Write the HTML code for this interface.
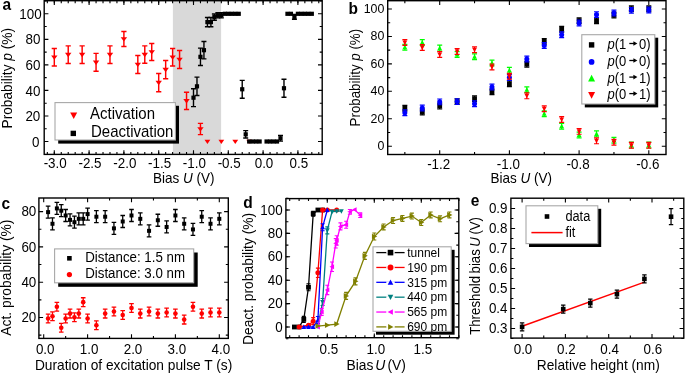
<!DOCTYPE html>
<html><head><meta charset="utf-8"><style>
html,body{margin:0;padding:0;background:#fff;}
svg{display:block;will-change:transform;}
text{font-family:"Liberation Sans", sans-serif;fill:#000;}
</style></head><body>
<svg width="685" height="373" viewBox="0 0 685 373">
<rect width="685" height="373" fill="#fff"/>
<rect x="172.9" y="0.7" width="48.2" height="153.7" fill="#d9d9d9"/>
<path d="M54.3 48.53V65.9M51.7 48.53h5.2M51.7 65.9h5.2" stroke="#ff0000" stroke-width="1.45" fill="none"/>
<path d="M51.1 55.42H57.5L54.3 59.82Z" fill="#ff0000"/>
<path d="M68.22 45.85V63.48M65.62 45.85h5.2M65.62 63.48h5.2" stroke="#ff0000" stroke-width="1.45" fill="none"/>
<path d="M65.02 52.86H71.42L68.22 57.26Z" fill="#ff0000"/>
<path d="M82.14 45.85V63.48M79.54 45.85h5.2M79.54 63.48h5.2" stroke="#ff0000" stroke-width="1.45" fill="none"/>
<path d="M78.94 52.86H85.34L82.14 57.26Z" fill="#ff0000"/>
<path d="M96.06 53.39V71.27M93.46 53.39h5.2M93.46 71.27h5.2" stroke="#ff0000" stroke-width="1.45" fill="none"/>
<path d="M92.86 60.53H99.26L96.06 64.93Z" fill="#ff0000"/>
<path d="M109.98 45.85V63.48M107.38 45.85h5.2M107.38 63.48h5.2" stroke="#ff0000" stroke-width="1.45" fill="none"/>
<path d="M106.78 52.86H113.18L109.98 57.26Z" fill="#ff0000"/>
<path d="M123.9 31.42V46.49M121.3 31.42h5.2M121.3 46.49h5.2" stroke="#ff0000" stroke-width="1.45" fill="none"/>
<path d="M120.7 37.16H127.1L123.9 41.56Z" fill="#ff0000"/>
<path d="M137.82 55.56V73.44M135.22 55.56h5.2M135.22 73.44h5.2" stroke="#ff0000" stroke-width="1.45" fill="none"/>
<path d="M134.62 62.7H141.02L137.82 67.1Z" fill="#ff0000"/>
<path d="M144.78 45.85V63.22M142.18 45.85h5.2M142.18 63.22h5.2" stroke="#ff0000" stroke-width="1.45" fill="none"/>
<path d="M141.58 52.74H147.98L144.78 57.14Z" fill="#ff0000"/>
<path d="M151.74 43.43V60.54M149.14 43.43h5.2M149.14 60.54h5.2" stroke="#ff0000" stroke-width="1.45" fill="none"/>
<path d="M148.54 50.18H154.94L151.74 54.58Z" fill="#ff0000"/>
<path d="M158.7 73.44V91.82M156.1 73.44h5.2M156.1 91.82h5.2" stroke="#ff0000" stroke-width="1.45" fill="none"/>
<path d="M155.5 80.83H161.9L158.7 85.23Z" fill="#ff0000"/>
<path d="M165.66 60.41V78.8M163.06 60.41h5.2M163.06 78.8h5.2" stroke="#ff0000" stroke-width="1.45" fill="none"/>
<path d="M162.46 67.8H168.86L165.66 72.2Z" fill="#ff0000"/>
<path d="M172.62 48.53V65.9M170.02 48.53h5.2M170.02 65.9h5.2" stroke="#ff0000" stroke-width="1.45" fill="none"/>
<path d="M169.42 55.42H175.82L172.62 59.82Z" fill="#ff0000"/>
<path d="M179.58 50.58V68.46M176.98 50.58h5.2M176.98 68.46h5.2" stroke="#ff0000" stroke-width="1.45" fill="none"/>
<path d="M176.38 57.72H182.78L179.58 62.12Z" fill="#ff0000"/>
<path d="M186.54 92.34V109.45M183.94 92.34h5.2M183.94 109.45h5.2" stroke="#ff0000" stroke-width="1.45" fill="none"/>
<path d="M183.34 99.09H189.74L186.54 103.49Z" fill="#ff0000"/>
<path d="M200.46 123.37V134.6M197.86 123.37h5.2M197.86 134.6h5.2" stroke="#ff0000" stroke-width="1.45" fill="none"/>
<path d="M197.26 127.19H203.66L200.46 131.59Z" fill="#ff0000"/>
<path d="M204.52 139.8H210.32L207.42 144.1Z" fill="#ff0000"/>
<path d="M218.44 139.8H224.24L221.34 144.1Z" fill="#ff0000"/>
<path d="M232.36 139.8H238.16L235.26 144.1Z" fill="#ff0000"/>
<path d="M246.28 139.8H252.08L249.18 144.1Z" fill="#ff0000"/>
<path d="M193.5 88.76V106.64M191 88.76h5M191 106.64h5" stroke="#000000" stroke-width="1.4" fill="none"/>
<rect x="191.4" y="95.6" width="4.2" height="4.2" fill="#000000"/>
<path d="M196.98 77.14V95.53M194.48 77.14h5M194.48 95.53h5" stroke="#000000" stroke-width="1.4" fill="none"/>
<rect x="194.88" y="84.23" width="4.2" height="4.2" fill="#000000"/>
<path d="M200.46 48.15V65.52M197.96 48.15h5M197.96 65.52h5" stroke="#000000" stroke-width="1.4" fill="none"/>
<rect x="198.36" y="54.73" width="4.2" height="4.2" fill="#000000"/>
<path d="M203.94 41.51V58.88M201.44 41.51h5M201.44 58.88h5" stroke="#000000" stroke-width="1.4" fill="none"/>
<rect x="201.84" y="48.09" width="4.2" height="4.2" fill="#000000"/>
<path d="M207.42 17.5V26.7M204.92 17.5h5M204.92 26.7h5" stroke="#000000" stroke-width="1.4" fill="none"/>
<rect x="205.32" y="20" width="4.2" height="4.2" fill="#000000"/>
<path d="M210.9 17.5V26.7M208.4 17.5h5M208.4 26.7h5" stroke="#000000" stroke-width="1.4" fill="none"/>
<rect x="208.8" y="20" width="4.2" height="4.2" fill="#000000"/>
<path d="M214.38 14.06V20.19M211.88 14.06h5M211.88 20.19h5" stroke="#000000" stroke-width="1.4" fill="none"/>
<rect x="212.28" y="15.02" width="4.2" height="4.2" fill="#000000"/>
<path d="M217.86 12.78V17.89M215.36 12.78h5M215.36 17.89h5" stroke="#000000" stroke-width="1.4" fill="none"/>
<rect x="215.76" y="13.23" width="4.2" height="4.2" fill="#000000"/>
<path d="M221.34 12.78V17.89M218.84 12.78h5M218.84 17.89h5" stroke="#000000" stroke-width="1.4" fill="none"/>
<rect x="219.24" y="13.23" width="4.2" height="4.2" fill="#000000"/>
<rect x="222.72" y="11.7" width="4.2" height="4.2" fill="#000000"/>
<rect x="226.2" y="11.7" width="4.2" height="4.2" fill="#000000"/>
<rect x="229.68" y="11.7" width="4.2" height="4.2" fill="#000000"/>
<rect x="233.16" y="11.7" width="4.2" height="4.2" fill="#000000"/>
<rect x="236.64" y="11.7" width="4.2" height="4.2" fill="#000000"/>
<path d="M242.22 80.33V98.21M239.72 80.33h5M239.72 98.21h5" stroke="#000000" stroke-width="1.4" fill="none"/>
<rect x="240.12" y="87.17" width="4.2" height="4.2" fill="#000000"/>
<path d="M245.7 130.65V138.05M243.2 130.65h5M243.2 138.05h5" stroke="#000000" stroke-width="1.4" fill="none"/>
<rect x="243.6" y="132.25" width="4.2" height="4.2" fill="#000000"/>
<rect x="247.08" y="139.4" width="4.2" height="4.2" fill="#000000"/>
<rect x="250.56" y="139.4" width="4.2" height="4.2" fill="#000000"/>
<rect x="254.04" y="139.4" width="4.2" height="4.2" fill="#000000"/>
<rect x="257.52" y="139.4" width="4.2" height="4.2" fill="#000000"/>
<rect x="264.48" y="139.4" width="4.2" height="4.2" fill="#000000"/>
<rect x="267.96" y="139.4" width="4.2" height="4.2" fill="#000000"/>
<rect x="271.44" y="139.4" width="4.2" height="4.2" fill="#000000"/>
<rect x="274.92" y="139.4" width="4.2" height="4.2" fill="#000000"/>
<path d="M280.5 135.5V141.12M278 135.5h5M278 141.12h5" stroke="#000000" stroke-width="1.4" fill="none"/>
<rect x="278.4" y="136.21" width="4.2" height="4.2" fill="#000000"/>
<path d="M283.98 79.31V97.19M281.48 79.31h5M281.48 97.19h5" stroke="#000000" stroke-width="1.4" fill="none"/>
<rect x="281.88" y="86.15" width="4.2" height="4.2" fill="#000000"/>
<rect x="285.36" y="11.7" width="4.2" height="4.2" fill="#000000"/>
<rect x="288.84" y="11.7" width="4.2" height="4.2" fill="#000000"/>
<path d="M294.42 14.44V19.29M291.92 14.44h5M291.92 19.29h5" stroke="#000000" stroke-width="1.4" fill="none"/>
<rect x="292.32" y="14.76" width="4.2" height="4.2" fill="#000000"/>
<rect x="295.8" y="11.7" width="4.2" height="4.2" fill="#000000"/>
<rect x="299.28" y="11.7" width="4.2" height="4.2" fill="#000000"/>
<rect x="302.76" y="11.7" width="4.2" height="4.2" fill="#000000"/>
<rect x="306.24" y="11.7" width="4.2" height="4.2" fill="#000000"/>
<rect x="309.72" y="11.7" width="4.2" height="4.2" fill="#000000"/>
<rect x="44.2" y="0.7" width="278" height="153.7" fill="none" stroke="#000" stroke-width="1.4"/>
<path d="M47.34 154.4v-2.5M47.34 0.7v2.5M54.3 154.4v-2.5M54.3 0.7v2.5M61.26 154.4v-2.5M61.26 0.7v2.5M68.22 154.4v-2.5M68.22 0.7v2.5M75.18 154.4v-2.5M75.18 0.7v2.5M82.14 154.4v-2.5M82.14 0.7v2.5M89.1 154.4v-2.5M89.1 0.7v2.5M96.06 154.4v-2.5M96.06 0.7v2.5M103.02 154.4v-2.5M103.02 0.7v2.5M109.98 154.4v-2.5M109.98 0.7v2.5M116.94 154.4v-2.5M116.94 0.7v2.5M123.9 154.4v-2.5M123.9 0.7v2.5M130.86 154.4v-2.5M130.86 0.7v2.5M137.82 154.4v-2.5M137.82 0.7v2.5M144.78 154.4v-2.5M144.78 0.7v2.5M151.74 154.4v-2.5M151.74 0.7v2.5M158.7 154.4v-2.5M158.7 0.7v2.5M165.66 154.4v-2.5M165.66 0.7v2.5M172.62 154.4v-2.5M172.62 0.7v2.5M179.58 154.4v-2.5M179.58 0.7v2.5M186.54 154.4v-2.5M186.54 0.7v2.5M193.5 154.4v-2.5M193.5 0.7v2.5M200.46 154.4v-2.5M200.46 0.7v2.5M207.42 154.4v-2.5M207.42 0.7v2.5M214.38 154.4v-2.5M214.38 0.7v2.5M221.34 154.4v-2.5M221.34 0.7v2.5M228.3 154.4v-2.5M228.3 0.7v2.5M235.26 154.4v-2.5M235.26 0.7v2.5M242.22 154.4v-2.5M242.22 0.7v2.5M249.18 154.4v-2.5M249.18 0.7v2.5M256.14 154.4v-2.5M256.14 0.7v2.5M263.1 154.4v-2.5M263.1 0.7v2.5M270.06 154.4v-2.5M270.06 0.7v2.5M277.02 154.4v-2.5M277.02 0.7v2.5M283.98 154.4v-2.5M283.98 0.7v2.5M290.94 154.4v-2.5M290.94 0.7v2.5M297.9 154.4v-2.5M297.9 0.7v2.5M304.86 154.4v-2.5M304.86 0.7v2.5M311.82 154.4v-2.5M311.82 0.7v2.5M318.78 154.4v-2.5M318.78 0.7v2.5" stroke="#000" stroke-width="1.1" fill="none"/>
<path d="M54.3 154.4v-4.2M54.3 0.7v4.2M89.1 154.4v-4.2M89.1 0.7v4.2M123.9 154.4v-4.2M123.9 0.7v4.2M158.7 154.4v-4.2M158.7 0.7v4.2M193.5 154.4v-4.2M193.5 0.7v4.2M228.3 154.4v-4.2M228.3 0.7v4.2M263.1 154.4v-4.2M263.1 0.7v4.2M297.9 154.4v-4.2M297.9 0.7v4.2" stroke="#000" stroke-width="1.1" fill="none"/>
<path d="M44.2 128.73h2.5M322.2 128.73h-2.5M44.2 103.19h2.5M322.2 103.19h-2.5M44.2 77.65h2.5M322.2 77.65h-2.5M44.2 52.11h2.5M322.2 52.11h-2.5M44.2 26.57h2.5M322.2 26.57h-2.5M44.2 1.03h2.5M322.2 1.03h-2.5" stroke="#000" stroke-width="1.1" fill="none"/>
<path d="M44.2 141.5h4.2M322.2 141.5h-4.2M44.2 115.96h4.2M322.2 115.96h-4.2M44.2 90.42h4.2M322.2 90.42h-4.2M44.2 64.88h4.2M322.2 64.88h-4.2M44.2 39.34h4.2M322.2 39.34h-4.2M44.2 13.8h4.2M322.2 13.8h-4.2" stroke="#000" stroke-width="1.1" fill="none"/>
<text transform="translate(55.2,167.7) scale(1,1.09)" font-size="13.4" text-anchor="middle" >-3.0</text>
<text transform="translate(90,167.7) scale(1,1.09)" font-size="13.4" text-anchor="middle" >-2.5</text>
<text transform="translate(124.8,167.7) scale(1,1.09)" font-size="13.4" text-anchor="middle" >-2.0</text>
<text transform="translate(159.6,167.7) scale(1,1.09)" font-size="13.4" text-anchor="middle" >-1.5</text>
<text transform="translate(194.4,167.7) scale(1,1.09)" font-size="13.4" text-anchor="middle" >-1.0</text>
<text transform="translate(229.2,167.7) scale(1,1.09)" font-size="13.4" text-anchor="middle" >-0.5</text>
<text transform="translate(264,167.7) scale(1,1.09)" font-size="13.4" text-anchor="middle" >0.0</text>
<text transform="translate(298.8,167.7) scale(1,1.09)" font-size="13.4" text-anchor="middle" >0.5</text>
<text transform="translate(39.4,146.6) scale(1,1.09)" font-size="13.4" text-anchor="end" >0</text>
<text transform="translate(40.3,121.06) scale(1,1.09)" font-size="13.4" text-anchor="end" >20</text>
<text transform="translate(40.5,95.52) scale(1,1.09)" font-size="13.4" text-anchor="end" >40</text>
<text transform="translate(40.5,69.98) scale(1,1.09)" font-size="13.4" text-anchor="end" >60</text>
<text transform="translate(40.5,44.44) scale(1,1.09)" font-size="13.4" text-anchor="end" >80</text>
<text transform="translate(41.6,18.9) scale(1,1.09)" font-size="13.4" text-anchor="end" >100</text>
<text transform="translate(153,183) scale(1,1.09)" font-size="13.5" text-anchor="start" >Bias <tspan font-style="italic">U</tspan> (V)</text>
<text transform="translate(11.8,78.2) rotate(-90) scale(1,1.075)" font-size="13.7" text-anchor="middle">Probability <tspan font-style="italic">p</tspan> (%)</text>
<rect x="58.2" y="105.8" width="120.8" height="37.8" fill="#000"/>
<rect x="55" y="102.6" width="120.4" height="37.4" fill="#fff" stroke="#a8a8a8" stroke-width="1.1"/>
<path d="M70.2 112.43L77.2 112.43L73.7 119.08Z" fill="#ff0000"/>
<rect x="70.6" y="130.7" width="5.4" height="5.4" fill="#000000"/>
<text transform="translate(90,118.8) scale(1,1.09)" font-size="15.0" text-anchor="start" >Activation</text>
<text transform="translate(91,136.6) scale(1,1.09)" font-size="15.0" text-anchor="start" >Deactivation</text>
<text transform="translate(2.5,9.8) scale(1,1.09)" font-size="15.5" text-anchor="start" font-weight="bold">a</text>
<path d="M404.85 105.45V111.21M402.35 105.45h5M402.35 111.21h5" stroke="#000000" stroke-width="1.2" fill="none"/>
<rect x="402.45" y="105.93" width="4.8" height="4.8" fill="#000000"/>
<path d="M422.27 109.16V114.92M419.77 109.16h5M419.77 114.92h5" stroke="#000000" stroke-width="1.2" fill="none"/>
<rect x="419.88" y="109.64" width="4.8" height="4.8" fill="#000000"/>
<path d="M439.7 103.26V109.02M437.2 103.26h5M437.2 109.02h5" stroke="#000000" stroke-width="1.2" fill="none"/>
<rect x="437.3" y="103.74" width="4.8" height="4.8" fill="#000000"/>
<path d="M457.12 98.73V104.49M454.62 98.73h5M454.62 104.49h5" stroke="#000000" stroke-width="1.2" fill="none"/>
<rect x="454.73" y="99.21" width="4.8" height="4.8" fill="#000000"/>
<path d="M474.55 95.85V101.61M472.05 95.85h5M472.05 101.61h5" stroke="#000000" stroke-width="1.2" fill="none"/>
<rect x="472.15" y="96.33" width="4.8" height="4.8" fill="#000000"/>
<path d="M491.97 88.85V94.61M489.47 88.85h5M489.47 94.61h5" stroke="#000000" stroke-width="1.2" fill="none"/>
<rect x="489.57" y="89.33" width="4.8" height="4.8" fill="#000000"/>
<path d="M509.4 80.89V86.66M506.9 80.89h5M506.9 86.66h5" stroke="#000000" stroke-width="1.2" fill="none"/>
<rect x="507" y="81.37" width="4.8" height="4.8" fill="#000000"/>
<path d="M526.83 61.27V67.04M524.33 61.27h5M524.33 67.04h5" stroke="#000000" stroke-width="1.2" fill="none"/>
<rect x="524.43" y="61.75" width="4.8" height="4.8" fill="#000000"/>
<path d="M544.25 38.5V44.26M541.75 38.5h5M541.75 44.26h5" stroke="#000000" stroke-width="1.2" fill="none"/>
<rect x="541.85" y="38.98" width="4.8" height="4.8" fill="#000000"/>
<path d="M561.67 26.42V32.19M559.17 26.42h5M559.17 32.19h5" stroke="#000000" stroke-width="1.2" fill="none"/>
<rect x="559.27" y="26.91" width="4.8" height="4.8" fill="#000000"/>
<path d="M579.1 17.78V23.54M576.6 17.78h5M576.6 23.54h5" stroke="#000000" stroke-width="1.2" fill="none"/>
<rect x="576.7" y="18.26" width="4.8" height="4.8" fill="#000000"/>
<path d="M596.52 17.78V23.54M594.02 17.78h5M594.02 23.54h5" stroke="#000000" stroke-width="1.2" fill="none"/>
<rect x="594.12" y="18.26" width="4.8" height="4.8" fill="#000000"/>
<path d="M613.95 12.16V17.92M611.45 12.16h5M611.45 17.92h5" stroke="#000000" stroke-width="1.2" fill="none"/>
<rect x="611.55" y="12.64" width="4.8" height="4.8" fill="#000000"/>
<path d="M631.38 5.84V11.61M628.88 5.84h5M628.88 11.61h5" stroke="#000000" stroke-width="1.2" fill="none"/>
<rect x="628.98" y="6.33" width="4.8" height="4.8" fill="#000000"/>
<path d="M648.8 5.84V11.61M646.3 5.84h5M646.3 11.61h5" stroke="#000000" stroke-width="1.2" fill="none"/>
<rect x="646.4" y="6.33" width="4.8" height="4.8" fill="#000000"/>
<path d="M404.85 109.84V115.6M402.35 109.84h5M402.35 115.6h5" stroke="#0000ff" stroke-width="1.2" fill="none"/>
<circle cx="404.85" cy="112.72" r="2.52" fill="#0000ff"/>
<path d="M422.27 105.18V110.94M419.77 105.18h5M419.77 110.94h5" stroke="#0000ff" stroke-width="1.2" fill="none"/>
<circle cx="422.27" cy="108.06" r="2.52" fill="#0000ff"/>
<path d="M439.7 99V104.77M437.2 99h5M437.2 104.77h5" stroke="#0000ff" stroke-width="1.2" fill="none"/>
<circle cx="439.7" cy="101.88" r="2.52" fill="#0000ff"/>
<path d="M457.12 98.73V104.49M454.62 98.73h5M454.62 104.49h5" stroke="#0000ff" stroke-width="1.2" fill="none"/>
<circle cx="457.12" cy="101.61" r="2.52" fill="#0000ff"/>
<path d="M474.55 100.92V106.69M472.05 100.92h5M472.05 106.69h5" stroke="#0000ff" stroke-width="1.2" fill="none"/>
<circle cx="474.55" cy="103.81" r="2.52" fill="#0000ff"/>
<path d="M491.97 84.19V89.95M489.47 84.19h5M489.47 89.95h5" stroke="#0000ff" stroke-width="1.2" fill="none"/>
<circle cx="491.97" cy="87.07" r="2.52" fill="#0000ff"/>
<path d="M509.4 74.72V80.48M506.9 74.72h5M506.9 80.48h5" stroke="#0000ff" stroke-width="1.2" fill="none"/>
<circle cx="509.4" cy="77.6" r="2.52" fill="#0000ff"/>
<path d="M526.83 56.06V61.82M524.33 56.06h5M524.33 61.82h5" stroke="#0000ff" stroke-width="1.2" fill="none"/>
<circle cx="526.83" cy="58.94" r="2.52" fill="#0000ff"/>
<path d="M544.25 42.61V48.38M541.75 42.61h5M541.75 48.38h5" stroke="#0000ff" stroke-width="1.2" fill="none"/>
<circle cx="544.25" cy="45.5" r="2.52" fill="#0000ff"/>
<path d="M561.67 31.91V37.67M559.17 31.91h5M559.17 37.67h5" stroke="#0000ff" stroke-width="1.2" fill="none"/>
<circle cx="561.67" cy="34.79" r="2.52" fill="#0000ff"/>
<path d="M579.1 20.11V25.88M576.6 20.11h5M576.6 25.88h5" stroke="#0000ff" stroke-width="1.2" fill="none"/>
<circle cx="579.1" cy="22.99" r="2.52" fill="#0000ff"/>
<path d="M596.52 11.74V17.51M594.02 11.74h5M594.02 17.51h5" stroke="#0000ff" stroke-width="1.2" fill="none"/>
<circle cx="596.52" cy="14.63" r="2.52" fill="#0000ff"/>
<path d="M613.95 10.1V15.86M611.45 10.1h5M611.45 15.86h5" stroke="#0000ff" stroke-width="1.2" fill="none"/>
<circle cx="613.95" cy="12.98" r="2.52" fill="#0000ff"/>
<path d="M631.38 7.49V13.25M628.88 7.49h5M628.88 13.25h5" stroke="#0000ff" stroke-width="1.2" fill="none"/>
<circle cx="631.38" cy="10.37" r="2.52" fill="#0000ff"/>
<path d="M648.8 7.08V12.84M646.3 7.08h5M646.3 12.84h5" stroke="#0000ff" stroke-width="1.2" fill="none"/>
<circle cx="648.8" cy="9.96" r="2.52" fill="#0000ff"/>
<path d="M404.85 44.4V50.16M402.35 44.4h5M402.35 50.16h5" stroke="#00ff00" stroke-width="1.2" fill="none"/>
<path d="M402.45 49.32L407.25 49.32L404.85 44.76Z" fill="#00ff00"/>
<path d="M422.27 39.6V45.36M419.77 39.6h5M419.77 45.36h5" stroke="#00ff00" stroke-width="1.2" fill="none"/>
<path d="M419.88 44.52L424.67 44.52L422.27 39.96Z" fill="#00ff00"/>
<path d="M439.7 45.22V50.98M437.2 45.22h5M437.2 50.98h5" stroke="#00ff00" stroke-width="1.2" fill="none"/>
<path d="M437.3 50.14L442.1 50.14L439.7 45.58Z" fill="#00ff00"/>
<path d="M457.12 51.67V57.43M454.62 51.67h5M454.62 57.43h5" stroke="#00ff00" stroke-width="1.2" fill="none"/>
<path d="M454.73 56.59L459.52 56.59L457.12 52.03Z" fill="#00ff00"/>
<path d="M474.55 53.86V59.63M472.05 53.86h5M472.05 59.63h5" stroke="#00ff00" stroke-width="1.2" fill="none"/>
<path d="M472.15 58.79L476.95 58.79L474.55 54.23Z" fill="#00ff00"/>
<path d="M491.97 60.04V65.8M489.47 60.04h5M489.47 65.8h5" stroke="#00ff00" stroke-width="1.2" fill="none"/>
<path d="M489.57 64.96L494.37 64.96L491.97 60.4Z" fill="#00ff00"/>
<path d="M509.4 67.45V73.21M506.9 67.45h5M506.9 73.21h5" stroke="#00ff00" stroke-width="1.2" fill="none"/>
<path d="M507 72.37L511.8 72.37L509.4 67.81Z" fill="#00ff00"/>
<path d="M526.83 86.79V92.55M524.33 86.79h5M524.33 92.55h5" stroke="#00ff00" stroke-width="1.2" fill="none"/>
<path d="M524.43 91.71L529.23 91.71L526.83 87.15Z" fill="#00ff00"/>
<path d="M544.25 110.8V116.56M541.75 110.8h5M541.75 116.56h5" stroke="#00ff00" stroke-width="1.2" fill="none"/>
<path d="M541.85 115.72L546.65 115.72L544.25 111.16Z" fill="#00ff00"/>
<path d="M561.67 123.29V129.05M559.17 123.29h5M559.17 129.05h5" stroke="#00ff00" stroke-width="1.2" fill="none"/>
<path d="M559.27 128.21L564.07 128.21L561.67 123.65Z" fill="#00ff00"/>
<path d="M579.1 132.07V137.83M576.6 132.07h5M576.6 137.83h5" stroke="#00ff00" stroke-width="1.2" fill="none"/>
<path d="M576.7 136.99L581.5 136.99L579.1 132.43Z" fill="#00ff00"/>
<path d="M596.52 130.97V136.73M594.02 130.97h5M594.02 136.73h5" stroke="#00ff00" stroke-width="1.2" fill="none"/>
<path d="M594.12 135.89L598.92 135.89L596.52 131.33Z" fill="#00ff00"/>
<path d="M613.95 137.42V143.18M611.45 137.42h5M611.45 143.18h5" stroke="#00ff00" stroke-width="1.2" fill="none"/>
<path d="M611.55 142.34L616.35 142.34L613.95 137.78Z" fill="#00ff00"/>
<path d="M631.38 142.22V147.98M628.88 142.22h5M628.88 147.98h5" stroke="#00ff00" stroke-width="1.2" fill="none"/>
<path d="M628.98 147.14L633.77 147.14L631.38 142.58Z" fill="#00ff00"/>
<path d="M648.8 142.22V147.98M646.3 142.22h5M646.3 147.98h5" stroke="#00ff00" stroke-width="1.2" fill="none"/>
<path d="M646.4 147.14L651.2 147.14L648.8 142.58Z" fill="#00ff00"/>
<path d="M404.85 39.6V45.36M402.35 39.6h5M402.35 45.36h5" stroke="#ff0000" stroke-width="1.2" fill="none"/>
<path d="M402.45 40.44L407.25 40.44L404.85 45Z" fill="#ff0000"/>
<path d="M422.27 44.53V50.3M419.77 44.53h5M419.77 50.3h5" stroke="#ff0000" stroke-width="1.2" fill="none"/>
<path d="M419.88 45.38L424.67 45.38L422.27 49.94Z" fill="#ff0000"/>
<path d="M439.7 51.67V57.43M437.2 51.67h5M437.2 57.43h5" stroke="#ff0000" stroke-width="1.2" fill="none"/>
<path d="M437.3 52.51L442.1 52.51L439.7 57.07Z" fill="#ff0000"/>
<path d="M457.12 48.51V54.28M454.62 48.51h5M454.62 54.28h5" stroke="#ff0000" stroke-width="1.2" fill="none"/>
<path d="M454.73 49.35L459.52 49.35L457.12 53.91Z" fill="#ff0000"/>
<path d="M474.55 46.87V52.63M472.05 46.87h5M472.05 52.63h5" stroke="#ff0000" stroke-width="1.2" fill="none"/>
<path d="M472.15 47.71L476.95 47.71L474.55 52.27Z" fill="#ff0000"/>
<path d="M491.97 64.02V69.78M489.47 64.02h5M489.47 69.78h5" stroke="#ff0000" stroke-width="1.2" fill="none"/>
<path d="M489.57 64.86L494.37 64.86L491.97 69.42Z" fill="#ff0000"/>
<path d="M509.4 73.35V79.11M506.9 73.35h5M506.9 79.11h5" stroke="#ff0000" stroke-width="1.2" fill="none"/>
<path d="M507 74.19L511.8 74.19L509.4 78.75Z" fill="#ff0000"/>
<path d="M526.83 92.97V98.73M524.33 92.97h5M524.33 98.73h5" stroke="#ff0000" stroke-width="1.2" fill="none"/>
<path d="M524.43 93.81L529.23 93.81L526.83 98.37Z" fill="#ff0000"/>
<path d="M544.25 105.86V111.63M541.75 105.86h5M541.75 111.63h5" stroke="#ff0000" stroke-width="1.2" fill="none"/>
<path d="M541.85 106.7L546.65 106.7L544.25 111.26Z" fill="#ff0000"/>
<path d="M561.67 116.7V122.46M559.17 116.7h5M559.17 122.46h5" stroke="#ff0000" stroke-width="1.2" fill="none"/>
<path d="M559.27 117.54L564.07 117.54L561.67 122.1Z" fill="#ff0000"/>
<path d="M579.1 128.5V134.26M576.6 128.5h5M576.6 134.26h5" stroke="#ff0000" stroke-width="1.2" fill="none"/>
<path d="M576.7 129.34L581.5 129.34L579.1 133.9Z" fill="#ff0000"/>
<path d="M596.52 137.97V143.73M594.02 137.97h5M594.02 143.73h5" stroke="#ff0000" stroke-width="1.2" fill="none"/>
<path d="M594.12 138.81L598.92 138.81L596.52 143.37Z" fill="#ff0000"/>
<path d="M613.95 139.34V145.1M611.45 139.34h5M611.45 145.1h5" stroke="#ff0000" stroke-width="1.2" fill="none"/>
<path d="M611.55 140.18L616.35 140.18L613.95 144.74Z" fill="#ff0000"/>
<path d="M631.38 142.36V148.12M628.88 142.36h5M628.88 148.12h5" stroke="#ff0000" stroke-width="1.2" fill="none"/>
<path d="M628.98 143.2L633.77 143.2L631.38 147.76Z" fill="#ff0000"/>
<path d="M648.8 142.36V148.12M646.3 142.36h5M646.3 148.12h5" stroke="#ff0000" stroke-width="1.2" fill="none"/>
<path d="M646.4 143.2L651.2 143.2L648.8 147.76Z" fill="#ff0000"/>
<rect x="387.7" y="0.7" width="278.3" height="153.8" fill="none" stroke="#000" stroke-width="1.4"/>
<path d="M404.85 154.5v-2.5M404.85 0.7v2.5M474.55 154.5v-2.5M474.55 0.7v2.5M544.25 154.5v-2.5M544.25 0.7v2.5M613.95 154.5v-2.5M613.95 0.7v2.5" stroke="#000" stroke-width="1.1" fill="none"/>
<path d="M439.7 154.5v-4.2M439.7 0.7v4.2M509.4 154.5v-4.2M509.4 0.7v4.2M579.1 154.5v-4.2M579.1 0.7v4.2M648.8 154.5v-4.2M648.8 0.7v4.2" stroke="#000" stroke-width="1.1" fill="none"/>
<path d="M387.7 132.48h2.5M666 132.48h-2.5M387.7 105.04h2.5M666 105.04h-2.5M387.7 77.6h2.5M666 77.6h-2.5M387.7 50.16h2.5M666 50.16h-2.5M387.7 22.72h2.5M666 22.72h-2.5" stroke="#000" stroke-width="1.1" fill="none"/>
<path d="M387.7 146.2h4.2M666 146.2h-4.2M387.7 118.76h4.2M666 118.76h-4.2M387.7 91.32h4.2M666 91.32h-4.2M387.7 63.88h4.2M666 63.88h-4.2M387.7 36.44h4.2M666 36.44h-4.2M387.7 9h4.2M666 9h-4.2" stroke="#000" stroke-width="1.1" fill="none"/>
<text transform="translate(438.7,168.5) scale(1,1.09)" font-size="13.4" text-anchor="middle" >-1.2</text>
<text transform="translate(508.4,168.5) scale(1,1.09)" font-size="13.4" text-anchor="middle" >-1.0</text>
<text transform="translate(578.1,168.5) scale(1,1.09)" font-size="13.4" text-anchor="middle" >-0.8</text>
<text transform="translate(647.8,168.5) scale(1,1.09)" font-size="13.4" text-anchor="middle" >-0.6</text>
<text transform="translate(384.4,150) scale(1,1.09)" font-size="12.4" text-anchor="end" >0</text>
<text transform="translate(384.4,122.56) scale(1,1.09)" font-size="12.4" text-anchor="end" >20</text>
<text transform="translate(384.4,95.12) scale(1,1.09)" font-size="12.4" text-anchor="end" >40</text>
<text transform="translate(384.4,67.68) scale(1,1.09)" font-size="12.4" text-anchor="end" >60</text>
<text transform="translate(384.4,40.24) scale(1,1.09)" font-size="12.4" text-anchor="end" >80</text>
<text transform="translate(384.4,12.8) scale(1,1.09)" font-size="12.4" text-anchor="end" >100</text>
<text transform="translate(490.6,183.4) scale(1,1.09)" font-size="13.5" text-anchor="start" >Bias <tspan font-style="italic">U</tspan> (V)</text>
<text transform="translate(359.6,77.65) rotate(-90) scale(1,1.075)" font-size="13.3" text-anchor="middle">Probability <tspan font-style="italic">p</tspan> (%)</text>
<rect x="584.8" y="37.7" width="73.4" height="69.7" fill="#000"/>
<rect x="581.8" y="34.7" width="73" height="69.3" fill="#fff" stroke="#a8a8a8" stroke-width="1.1"/>
<rect x="588.9" y="42.2" width="5.4" height="5.4" fill="#000000"/>
<text transform="translate(607.5,49.2) scale(1,1.09)" font-size="13" text-anchor="start" ><tspan font-style="italic">p</tspan>(1</text>
<path d="M629.3 43.5H634.4" stroke="#000" stroke-width="1.3"/><path d="M633.4 41.2L637.4 43.5L633.4 45.8Z" fill="#000"/>
<text transform="translate(639,49.2) scale(1,1.09)" font-size="13" text-anchor="start" >0)</text>
<circle cx="591.6" cy="61.9" r="2.84" fill="#0000ff"/>
<text transform="translate(607.5,66.2) scale(1,1.09)" font-size="13" text-anchor="start" ><tspan font-style="italic">p</tspan>(0</text>
<path d="M629.3 60.5H634.4" stroke="#000" stroke-width="1.3"/><path d="M633.4 58.2L637.4 60.5L633.4 62.8Z" fill="#000"/>
<text transform="translate(639,66.2) scale(1,1.09)" font-size="13" text-anchor="start" >0)</text>
<path d="M588.1 81.47L595.1 81.47L591.6 74.83Z" fill="#00ff00"/>
<text transform="translate(607.5,82.8) scale(1,1.09)" font-size="13" text-anchor="start" ><tspan font-style="italic">p</tspan>(1</text>
<path d="M629.3 77.1H634.4" stroke="#000" stroke-width="1.3"/><path d="M633.4 74.8L637.4 77.1L633.4 79.4Z" fill="#000"/>
<text transform="translate(639,82.8) scale(1,1.09)" font-size="13" text-anchor="start" >1)</text>
<path d="M588.1 92.03L595.1 92.03L591.6 98.67Z" fill="#ff0000"/>
<text transform="translate(607.5,99.3) scale(1,1.09)" font-size="13" text-anchor="start" ><tspan font-style="italic">p</tspan>(0</text>
<path d="M629.3 93.6H634.4" stroke="#000" stroke-width="1.3"/><path d="M633.4 91.3L637.4 93.6L633.4 95.9Z" fill="#000"/>
<text transform="translate(639,99.3) scale(1,1.09)" font-size="13" text-anchor="start" >1)</text>
<text transform="translate(348.6,13.6) scale(1,1.09)" font-size="15.5" text-anchor="start" font-weight="bold">b</text>
<path d="M48.09 206.13V218.13M45.79 206.13h4.6M45.79 218.13h4.6" stroke="#000000" stroke-width="1.3" fill="none"/>
<rect x="46.09" y="210.13" width="4" height="4" fill="#000000"/>
<path d="M52.48 217.78V229.78M50.18 217.78h4.6M50.18 229.78h4.6" stroke="#000000" stroke-width="1.3" fill="none"/>
<rect x="50.48" y="221.78" width="4" height="4" fill="#000000"/>
<path d="M56.87 202.42V214.42M54.57 202.42h4.6M54.57 214.42h4.6" stroke="#000000" stroke-width="1.3" fill="none"/>
<rect x="54.87" y="206.42" width="4" height="4" fill="#000000"/>
<path d="M61.26 204.72V216.72M58.96 204.72h4.6M58.96 216.72h4.6" stroke="#000000" stroke-width="1.3" fill="none"/>
<rect x="59.26" y="208.72" width="4" height="4" fill="#000000"/>
<path d="M65.65 209.48V221.48M63.35 209.48h4.6M63.35 221.48h4.6" stroke="#000000" stroke-width="1.3" fill="none"/>
<rect x="63.65" y="213.48" width="4" height="4" fill="#000000"/>
<path d="M70.04 213.9V225.9M67.74 213.9h4.6M67.74 225.9h4.6" stroke="#000000" stroke-width="1.3" fill="none"/>
<rect x="68.04" y="217.9" width="4" height="4" fill="#000000"/>
<path d="M74.43 216.19V228.19M72.13 216.19h4.6M72.13 228.19h4.6" stroke="#000000" stroke-width="1.3" fill="none"/>
<rect x="72.43" y="220.19" width="4" height="4" fill="#000000"/>
<path d="M78.82 212.84V224.84M76.52 212.84h4.6M76.52 224.84h4.6" stroke="#000000" stroke-width="1.3" fill="none"/>
<rect x="76.82" y="216.84" width="4" height="4" fill="#000000"/>
<path d="M83.21 212.84V224.84M80.91 212.84h4.6M80.91 224.84h4.6" stroke="#000000" stroke-width="1.3" fill="none"/>
<rect x="81.21" y="216.84" width="4" height="4" fill="#000000"/>
<path d="M87.6 208.07V220.07M85.3 208.07h4.6M85.3 220.07h4.6" stroke="#000000" stroke-width="1.3" fill="none"/>
<rect x="85.6" y="212.07" width="4" height="4" fill="#000000"/>
<path d="M96.38 210.72V222.72M94.08 210.72h4.6M94.08 222.72h4.6" stroke="#000000" stroke-width="1.3" fill="none"/>
<rect x="94.38" y="214.72" width="4" height="4" fill="#000000"/>
<path d="M105.16 210.72V222.72M102.86 210.72h4.6M102.86 222.72h4.6" stroke="#000000" stroke-width="1.3" fill="none"/>
<rect x="103.16" y="214.72" width="4" height="4" fill="#000000"/>
<path d="M113.94 222.37V234.37M111.64 222.37h4.6M111.64 234.37h4.6" stroke="#000000" stroke-width="1.3" fill="none"/>
<rect x="111.94" y="226.37" width="4" height="4" fill="#000000"/>
<path d="M122.72 215.48V227.48M120.42 215.48h4.6M120.42 227.48h4.6" stroke="#000000" stroke-width="1.3" fill="none"/>
<rect x="120.72" y="219.48" width="4" height="4" fill="#000000"/>
<path d="M131.5 209.48V221.48M129.2 209.48h4.6M129.2 221.48h4.6" stroke="#000000" stroke-width="1.3" fill="none"/>
<rect x="129.5" y="213.48" width="4" height="4" fill="#000000"/>
<path d="M140.28 212.84V224.84M137.98 212.84h4.6M137.98 224.84h4.6" stroke="#000000" stroke-width="1.3" fill="none"/>
<rect x="138.28" y="216.84" width="4" height="4" fill="#000000"/>
<path d="M149.06 224.84V236.84M146.76 224.84h4.6M146.76 236.84h4.6" stroke="#000000" stroke-width="1.3" fill="none"/>
<rect x="147.06" y="228.84" width="4" height="4" fill="#000000"/>
<path d="M157.84 214.25V226.25M155.54 214.25h4.6M155.54 226.25h4.6" stroke="#000000" stroke-width="1.3" fill="none"/>
<rect x="155.84" y="218.25" width="4" height="4" fill="#000000"/>
<path d="M166.62 220.96V232.96M164.32 220.96h4.6M164.32 232.96h4.6" stroke="#000000" stroke-width="1.3" fill="none"/>
<rect x="164.62" y="224.96" width="4" height="4" fill="#000000"/>
<path d="M175.4 209.48V221.48M173.1 209.48h4.6M173.1 221.48h4.6" stroke="#000000" stroke-width="1.3" fill="none"/>
<rect x="173.4" y="213.48" width="4" height="4" fill="#000000"/>
<path d="M184.18 217.78V229.78M181.88 217.78h4.6M181.88 229.78h4.6" stroke="#000000" stroke-width="1.3" fill="none"/>
<rect x="182.18" y="221.78" width="4" height="4" fill="#000000"/>
<path d="M192.96 223.43V235.43M190.66 223.43h4.6M190.66 235.43h4.6" stroke="#000000" stroke-width="1.3" fill="none"/>
<rect x="190.96" y="227.43" width="4" height="4" fill="#000000"/>
<path d="M201.74 210.72V222.72M199.44 210.72h4.6M199.44 222.72h4.6" stroke="#000000" stroke-width="1.3" fill="none"/>
<rect x="199.74" y="214.72" width="4" height="4" fill="#000000"/>
<path d="M210.52 217.78V229.78M208.22 217.78h4.6M208.22 229.78h4.6" stroke="#000000" stroke-width="1.3" fill="none"/>
<rect x="208.52" y="221.78" width="4" height="4" fill="#000000"/>
<path d="M219.3 212.84V224.84M217 212.84h4.6M217 224.84h4.6" stroke="#000000" stroke-width="1.3" fill="none"/>
<rect x="217.3" y="216.84" width="4" height="4" fill="#000000"/>
<path d="M48.09 314.16V322.96M45.79 314.16h4.6M45.79 322.96h4.6" stroke="#ff0000" stroke-width="1.3" fill="none"/>
<circle cx="48.09" cy="318.56" r="2.31" fill="#ff0000"/>
<path d="M52.48 311.86V320.66M50.18 311.86h4.6M50.18 320.66h4.6" stroke="#ff0000" stroke-width="1.3" fill="none"/>
<circle cx="52.48" cy="316.26" r="2.31" fill="#ff0000"/>
<path d="M56.87 302.33V311.13M54.57 302.33h4.6M54.57 311.13h4.6" stroke="#ff0000" stroke-width="1.3" fill="none"/>
<circle cx="56.87" cy="306.73" r="2.31" fill="#ff0000"/>
<path d="M61.26 323.34V332.14M58.96 323.34h4.6M58.96 332.14h4.6" stroke="#ff0000" stroke-width="1.3" fill="none"/>
<circle cx="61.26" cy="327.74" r="2.31" fill="#ff0000"/>
<path d="M65.65 314.16V322.96M63.35 314.16h4.6M63.35 322.96h4.6" stroke="#ff0000" stroke-width="1.3" fill="none"/>
<circle cx="65.65" cy="318.56" r="2.31" fill="#ff0000"/>
<path d="M70.04 309.22V318.02M67.74 309.22h4.6M67.74 318.02h4.6" stroke="#ff0000" stroke-width="1.3" fill="none"/>
<circle cx="70.04" cy="313.62" r="2.31" fill="#ff0000"/>
<path d="M74.43 312.92V321.72M72.13 312.92h4.6M72.13 321.72h4.6" stroke="#ff0000" stroke-width="1.3" fill="none"/>
<circle cx="74.43" cy="317.32" r="2.31" fill="#ff0000"/>
<path d="M78.82 309.22V318.02M76.52 309.22h4.6M76.52 318.02h4.6" stroke="#ff0000" stroke-width="1.3" fill="none"/>
<circle cx="78.82" cy="313.62" r="2.31" fill="#ff0000"/>
<path d="M83.21 297.74V306.54M80.91 297.74h4.6M80.91 306.54h4.6" stroke="#ff0000" stroke-width="1.3" fill="none"/>
<circle cx="83.21" cy="302.14" r="2.31" fill="#ff0000"/>
<path d="M87.6 314.16V322.96M85.3 314.16h4.6M85.3 322.96h4.6" stroke="#ff0000" stroke-width="1.3" fill="none"/>
<circle cx="87.6" cy="318.56" r="2.31" fill="#ff0000"/>
<path d="M96.38 320.87V329.67M94.08 320.87h4.6M94.08 329.67h4.6" stroke="#ff0000" stroke-width="1.3" fill="none"/>
<circle cx="96.38" cy="325.27" r="2.31" fill="#ff0000"/>
<path d="M105.16 309.22V318.02M102.86 309.22h4.6M102.86 318.02h4.6" stroke="#ff0000" stroke-width="1.3" fill="none"/>
<circle cx="105.16" cy="313.62" r="2.31" fill="#ff0000"/>
<path d="M113.94 307.1V315.9M111.64 307.1h4.6M111.64 315.9h4.6" stroke="#ff0000" stroke-width="1.3" fill="none"/>
<circle cx="113.94" cy="311.5" r="2.31" fill="#ff0000"/>
<path d="M122.72 310.63V319.43M120.42 310.63h4.6M120.42 319.43h4.6" stroke="#ff0000" stroke-width="1.3" fill="none"/>
<circle cx="122.72" cy="315.03" r="2.31" fill="#ff0000"/>
<path d="M131.5 303.57V312.37M129.2 303.57h4.6M129.2 312.37h4.6" stroke="#ff0000" stroke-width="1.3" fill="none"/>
<circle cx="131.5" cy="307.97" r="2.31" fill="#ff0000"/>
<path d="M140.28 309.22V318.02M137.98 309.22h4.6M137.98 318.02h4.6" stroke="#ff0000" stroke-width="1.3" fill="none"/>
<circle cx="140.28" cy="313.62" r="2.31" fill="#ff0000"/>
<path d="M149.06 307.1V315.9M146.76 307.1h4.6M146.76 315.9h4.6" stroke="#ff0000" stroke-width="1.3" fill="none"/>
<circle cx="149.06" cy="311.5" r="2.31" fill="#ff0000"/>
<path d="M157.84 309.22V318.02M155.54 309.22h4.6M155.54 318.02h4.6" stroke="#ff0000" stroke-width="1.3" fill="none"/>
<circle cx="157.84" cy="313.62" r="2.31" fill="#ff0000"/>
<path d="M166.62 308.16V316.96M164.32 308.16h4.6M164.32 316.96h4.6" stroke="#ff0000" stroke-width="1.3" fill="none"/>
<circle cx="166.62" cy="312.56" r="2.31" fill="#ff0000"/>
<path d="M175.4 309.22V318.02M173.1 309.22h4.6M173.1 318.02h4.6" stroke="#ff0000" stroke-width="1.3" fill="none"/>
<circle cx="175.4" cy="313.62" r="2.31" fill="#ff0000"/>
<path d="M184.18 315.22V324.02M181.88 315.22h4.6M181.88 324.02h4.6" stroke="#ff0000" stroke-width="1.3" fill="none"/>
<circle cx="184.18" cy="319.62" r="2.31" fill="#ff0000"/>
<path d="M192.96 302.33V311.13M190.66 302.33h4.6M190.66 311.13h4.6" stroke="#ff0000" stroke-width="1.3" fill="none"/>
<circle cx="192.96" cy="306.73" r="2.31" fill="#ff0000"/>
<path d="M201.74 309.22V318.02M199.44 309.22h4.6M199.44 318.02h4.6" stroke="#ff0000" stroke-width="1.3" fill="none"/>
<circle cx="201.74" cy="313.62" r="2.31" fill="#ff0000"/>
<path d="M210.52 308.16V316.96M208.22 308.16h4.6M208.22 316.96h4.6" stroke="#ff0000" stroke-width="1.3" fill="none"/>
<circle cx="210.52" cy="312.56" r="2.31" fill="#ff0000"/>
<path d="M219.3 308.16V316.96M217 308.16h4.6M217 316.96h4.6" stroke="#ff0000" stroke-width="1.3" fill="none"/>
<circle cx="219.3" cy="312.56" r="2.31" fill="#ff0000"/>
<rect x="38.9" y="198" width="189.4" height="140.4" fill="none" stroke="#000" stroke-width="1.4"/>
<path d="M65.65 338.4v-2.5M65.65 198v2.5M109.55 338.4v-2.5M109.55 198v2.5M153.45 338.4v-2.5M153.45 198v2.5M197.35 338.4v-2.5M197.35 198v2.5" stroke="#000" stroke-width="1.1" fill="none"/>
<path d="M43.7 338.4v-4.2M43.7 198v4.2M87.6 338.4v-4.2M87.6 198v4.2M131.5 338.4v-4.2M131.5 198v4.2M175.4 338.4v-4.2M175.4 198v4.2M219.3 338.4v-4.2M219.3 198v4.2" stroke="#000" stroke-width="1.1" fill="none"/>
<path d="M38.9 335.15h2.5M228.3 335.15h-2.5M38.9 299.85h2.5M228.3 299.85h-2.5M38.9 264.55h2.5M228.3 264.55h-2.5M38.9 229.25h2.5M228.3 229.25h-2.5" stroke="#000" stroke-width="1.1" fill="none"/>
<path d="M38.9 317.5h4.2M228.3 317.5h-4.2M38.9 282.2h4.2M228.3 282.2h-4.2M38.9 246.9h4.2M228.3 246.9h-4.2M38.9 211.6h4.2M228.3 211.6h-4.2" stroke="#000" stroke-width="1.1" fill="none"/>
<text transform="translate(45.2,353.6) scale(1,1.09)" font-size="13.4" text-anchor="middle" >0.0</text>
<text transform="translate(89.1,353.6) scale(1,1.09)" font-size="13.4" text-anchor="middle" >1.0</text>
<text transform="translate(133,353.6) scale(1,1.09)" font-size="13.4" text-anchor="middle" >2.0</text>
<text transform="translate(176.9,353.6) scale(1,1.09)" font-size="13.4" text-anchor="middle" >3.0</text>
<text transform="translate(220.8,353.6) scale(1,1.09)" font-size="13.4" text-anchor="middle" >4.0</text>
<text transform="translate(36.3,322.1) scale(1,1.09)" font-size="13.4" text-anchor="end" >20</text>
<text transform="translate(36.3,286.8) scale(1,1.09)" font-size="13.4" text-anchor="end" >40</text>
<text transform="translate(36.3,251.5) scale(1,1.09)" font-size="13.4" text-anchor="end" >60</text>
<text transform="translate(36.3,216.2) scale(1,1.09)" font-size="13.4" text-anchor="end" >80</text>
<text transform="translate(34.9,369.5) scale(1,1.09)" font-size="13.75" text-anchor="start" >Duration of excitation pulse T (s)</text>
<text transform="translate(10.6,277.6) rotate(-90) scale(1,1.075)" font-size="13.85" text-anchor="middle">Act. probability (%)</text>
<rect x="58.2" y="252.5" width="139.5" height="34.3" fill="#000"/>
<rect x="54.6" y="248.9" width="139.1" height="33.9" fill="#fff" stroke="#a8a8a8" stroke-width="1.1"/>
<rect x="67.1" y="256" width="4.6" height="4.6" fill="#000000"/>
<circle cx="69.4" cy="274.6" r="2.62" fill="#ff0000"/>
<text transform="translate(85.2,262) scale(1,1.09)" font-size="13.3" text-anchor="start" >Distance: 1.5 nm</text>
<text transform="translate(85.2,277.7) scale(1,1.09)" font-size="13.3" text-anchor="start" >Distance: 3.0 nm</text>
<text transform="translate(1.5,208.6) scale(1,1.09)" font-size="15.5" text-anchor="start" font-weight="bold">c</text>
<path d="M294.4 327L299.1 327L303.8 319.39L308.5 287.22L313.2 213.74L317.9 210L322.6 210" stroke="#000000" stroke-width="1.3" fill="none"/>
<rect x="292" y="324.6" width="4.8" height="4.8" fill="#000000"/>
<rect x="296.7" y="324.6" width="4.8" height="4.8" fill="#000000"/>
<path d="M303.8 316.35V322.44M301.8 316.35h4M301.8 322.44h4" stroke="#000000" stroke-width="1.1" fill="none"/>
<rect x="301.4" y="317" width="4.8" height="4.8" fill="#000000"/>
<path d="M308.5 283.71V290.73M306.5 283.71h4M306.5 290.73h4" stroke="#000000" stroke-width="1.1" fill="none"/>
<rect x="306.1" y="284.82" width="4.8" height="4.8" fill="#000000"/>
<path d="M313.2 211.4V216.08M311.2 211.4h4M311.2 216.08h4" stroke="#000000" stroke-width="1.1" fill="none"/>
<rect x="310.8" y="211.34" width="4.8" height="4.8" fill="#000000"/>
<rect x="315.5" y="207.6" width="4.8" height="4.8" fill="#000000"/>
<rect x="320.2" y="207.6" width="4.8" height="4.8" fill="#000000"/>
<path d="M299.1 327L308.5 325.25L313.2 321.15L317.9 272.83L322.6 210L327.3 210L336.7 210" stroke="#ff0000" stroke-width="1.3" fill="none"/>
<circle cx="299.1" cy="327" r="2.52" fill="#ff0000"/>
<circle cx="308.5" cy="325.25" r="2.52" fill="#ff0000"/>
<path d="M313.2 317.64V324.66M311.2 317.64h4M311.2 324.66h4" stroke="#ff0000" stroke-width="1.1" fill="none"/>
<circle cx="313.2" cy="321.15" r="2.52" fill="#ff0000"/>
<path d="M317.9 268.15V277.51M315.9 268.15h4M315.9 277.51h4" stroke="#ff0000" stroke-width="1.1" fill="none"/>
<circle cx="317.9" cy="272.83" r="2.52" fill="#ff0000"/>
<circle cx="322.6" cy="210" r="2.52" fill="#ff0000"/>
<circle cx="327.3" cy="210" r="2.52" fill="#ff0000"/>
<circle cx="336.7" cy="210" r="2.52" fill="#ff0000"/>
<path d="M303.8 327L308.5 327L313.2 327L317.9 319.98L322.6 227.2L327.3 210" stroke="#0000ff" stroke-width="1.3" fill="none"/>
<path d="M301.4 329.04L306.2 329.04L303.8 324.48Z" fill="#0000ff"/>
<path d="M306.1 329.04L310.9 329.04L308.5 324.48Z" fill="#0000ff"/>
<path d="M310.8 329.04L315.6 329.04L313.2 324.48Z" fill="#0000ff"/>
<path d="M317.9 316.47V323.49M315.9 316.47h4M315.9 323.49h4" stroke="#0000ff" stroke-width="1.1" fill="none"/>
<path d="M315.5 322.02L320.3 322.02L317.9 317.46Z" fill="#0000ff"/>
<path d="M322.6 223.69V230.71M320.6 223.69h4M320.6 230.71h4" stroke="#0000ff" stroke-width="1.1" fill="none"/>
<path d="M320.2 229.24L325 229.24L322.6 224.68Z" fill="#0000ff"/>
<path d="M324.9 212.04L329.7 212.04L327.3 207.48Z" fill="#0000ff"/>
<path d="M317.9 326.42L322.6 301.96L327.3 230.36L332 211.87L336.7 211.17L341.4 211.17" stroke="#008080" stroke-width="1.3" fill="none"/>
<path d="M315.5 324.38L320.3 324.38L317.9 328.94Z" fill="#008080"/>
<path d="M322.6 298.45V305.47M320.6 298.45h4M320.6 305.47h4" stroke="#008080" stroke-width="1.1" fill="none"/>
<path d="M320.2 299.92L325 299.92L322.6 304.48Z" fill="#008080"/>
<path d="M327.3 226.85V233.87M325.3 226.85h4M325.3 233.87h4" stroke="#008080" stroke-width="1.1" fill="none"/>
<path d="M324.9 228.32L329.7 228.32L327.3 232.88Z" fill="#008080"/>
<path d="M329.6 209.83L334.4 209.83L332 214.39Z" fill="#008080"/>
<path d="M334.3 209.13L339.1 209.13L336.7 213.69Z" fill="#008080"/>
<path d="M339 209.13L343.8 209.13L341.4 213.69Z" fill="#008080"/>
<path d="M317.9 327L321.66 312.02L327.3 289.91L332 266.75L335.76 243.34L336.7 240.42L340.46 226.38L346.1 224.74L349.86 211.87L354.56 209.53L360.2 215.15" stroke="#ff00ff" stroke-width="1.3" fill="none"/>
<path d="M319.94 324.6L319.94 329.4L315.38 327Z" fill="#ff00ff"/>
<path d="M321.66 308.51V315.53M319.66 308.51h4M319.66 315.53h4" stroke="#ff00ff" stroke-width="1.1" fill="none"/>
<path d="M323.7 309.62L323.7 314.42L319.14 312.02Z" fill="#ff00ff"/>
<path d="M327.3 285.23V294.59M325.3 285.23h4M325.3 294.59h4" stroke="#ff00ff" stroke-width="1.1" fill="none"/>
<path d="M329.34 287.51L329.34 292.31L324.78 289.91Z" fill="#ff00ff"/>
<path d="M332 262.06V271.43M330 262.06h4M330 271.43h4" stroke="#ff00ff" stroke-width="1.1" fill="none"/>
<path d="M334.04 264.35L334.04 269.14L329.48 266.75Z" fill="#ff00ff"/>
<path d="M335.76 238.66V248.03M333.76 238.66h4M333.76 248.03h4" stroke="#ff00ff" stroke-width="1.1" fill="none"/>
<path d="M337.8 240.94L337.8 245.75L333.24 243.34Z" fill="#ff00ff"/>
<path d="M336.7 235.74V245.1M334.7 235.74h4M334.7 245.1h4" stroke="#ff00ff" stroke-width="1.1" fill="none"/>
<path d="M338.74 238.02L338.74 242.82L334.18 240.42Z" fill="#ff00ff"/>
<path d="M340.46 222.87V229.89M338.46 222.87h4M338.46 229.89h4" stroke="#ff00ff" stroke-width="1.1" fill="none"/>
<path d="M342.5 223.98L342.5 228.78L337.94 226.38Z" fill="#ff00ff"/>
<path d="M346.1 221.23V228.25M344.1 221.23h4M344.1 228.25h4" stroke="#ff00ff" stroke-width="1.1" fill="none"/>
<path d="M348.14 222.34L348.14 227.14L343.58 224.74Z" fill="#ff00ff"/>
<path d="M349.86 209.53V214.21M347.86 209.53h4M347.86 214.21h4" stroke="#ff00ff" stroke-width="1.1" fill="none"/>
<path d="M351.9 209.47L351.9 214.27L347.34 211.87Z" fill="#ff00ff"/>
<path d="M356.6 207.13L356.6 211.93L352.04 209.53Z" fill="#ff00ff"/>
<path d="M360.2 212.81V217.49M358.2 212.81h4M358.2 217.49h4" stroke="#ff00ff" stroke-width="1.1" fill="none"/>
<path d="M362.24 212.75L362.24 217.55L357.68 215.15Z" fill="#ff00ff"/>
<path d="M317.9 326.06L327.3 325.13L336.7 324.07L346.1 295.88L355.5 281.37L364.9 255.86L374.3 236.56L383.7 226.97L393.1 220.53L402.5 218.42L411.9 216.08L421.3 222.52L430.7 214.91L440.1 218.78L449.5 214.91" stroke="#808000" stroke-width="1.3" fill="none"/>
<path d="M315.52 323.26L315.52 328.86L320.84 326.06Z" fill="#808000"/>
<path d="M324.92 322.33L324.92 327.93L330.24 325.13Z" fill="#808000"/>
<path d="M334.32 321.27L334.32 326.88L339.64 324.07Z" fill="#808000"/>
<path d="M346.1 292.37V299.39M344.1 292.37h4M344.1 299.39h4" stroke="#808000" stroke-width="1.1" fill="none"/>
<path d="M343.72 293.08L343.72 298.68L349.04 295.88Z" fill="#808000"/>
<path d="M355.5 277.86V284.88M353.5 277.86h4M353.5 284.88h4" stroke="#808000" stroke-width="1.1" fill="none"/>
<path d="M353.12 278.57L353.12 284.17L358.44 281.37Z" fill="#808000"/>
<path d="M364.9 252.35V259.37M362.9 252.35h4M362.9 259.37h4" stroke="#808000" stroke-width="1.1" fill="none"/>
<path d="M362.52 253.06L362.52 258.66L367.84 255.86Z" fill="#808000"/>
<path d="M374.3 233.05V240.07M372.3 233.05h4M372.3 240.07h4" stroke="#808000" stroke-width="1.1" fill="none"/>
<path d="M371.92 233.76L371.92 239.36L377.24 236.56Z" fill="#808000"/>
<path d="M383.7 224.04V229.89M381.7 224.04h4M381.7 229.89h4" stroke="#808000" stroke-width="1.1" fill="none"/>
<path d="M381.32 224.16L381.32 229.77L386.64 226.97Z" fill="#808000"/>
<path d="M393.1 217.6V223.46M391.1 217.6h4M391.1 223.46h4" stroke="#808000" stroke-width="1.1" fill="none"/>
<path d="M390.72 217.73L390.72 223.33L396.04 220.53Z" fill="#808000"/>
<path d="M402.5 215.5V221.35M400.5 215.5h4M400.5 221.35h4" stroke="#808000" stroke-width="1.1" fill="none"/>
<path d="M400.12 215.62L400.12 221.22L405.44 218.42Z" fill="#808000"/>
<path d="M411.9 213.16V219.01M409.9 213.16h4M409.9 219.01h4" stroke="#808000" stroke-width="1.1" fill="none"/>
<path d="M409.52 213.28L409.52 218.88L414.84 216.08Z" fill="#808000"/>
<path d="M421.3 219.59V225.44M419.3 219.59h4M419.3 225.44h4" stroke="#808000" stroke-width="1.1" fill="none"/>
<path d="M418.92 219.72L418.92 225.32L424.24 222.52Z" fill="#808000"/>
<path d="M430.7 211.99V217.84M428.7 211.99h4M428.7 217.84h4" stroke="#808000" stroke-width="1.1" fill="none"/>
<path d="M428.32 212.11L428.32 217.71L433.64 214.91Z" fill="#808000"/>
<path d="M440.1 215.85V221.7M438.1 215.85h4M438.1 221.7h4" stroke="#808000" stroke-width="1.1" fill="none"/>
<path d="M437.72 215.97L437.72 221.58L443.04 218.78Z" fill="#808000"/>
<path d="M449.5 211.99V217.84M447.5 211.99h4M447.5 217.84h4" stroke="#808000" stroke-width="1.1" fill="none"/>
<path d="M447.12 212.11L447.12 217.71L452.44 214.91Z" fill="#808000"/>
<rect x="285.9" y="198.6" width="172.9" height="139.1" fill="none" stroke="#000" stroke-width="1.4"/>
<path d="M289.7 337.7v-2.5M289.7 198.6v2.5M299.1 337.7v-2.5M299.1 198.6v2.5M308.5 337.7v-2.5M308.5 198.6v2.5M317.9 337.7v-2.5M317.9 198.6v2.5M327.3 337.7v-2.5M327.3 198.6v2.5M336.7 337.7v-2.5M336.7 198.6v2.5M346.1 337.7v-2.5M346.1 198.6v2.5M355.5 337.7v-2.5M355.5 198.6v2.5M364.9 337.7v-2.5M364.9 198.6v2.5M374.3 337.7v-2.5M374.3 198.6v2.5M383.7 337.7v-2.5M383.7 198.6v2.5M393.1 337.7v-2.5M393.1 198.6v2.5M402.5 337.7v-2.5M402.5 198.6v2.5M411.9 337.7v-2.5M411.9 198.6v2.5M421.3 337.7v-2.5M421.3 198.6v2.5M430.7 337.7v-2.5M430.7 198.6v2.5M440.1 337.7v-2.5M440.1 198.6v2.5M449.5 337.7v-2.5M449.5 198.6v2.5M458.9 337.7v-2.5M458.9 198.6v2.5" stroke="#000" stroke-width="1.1" fill="none"/>
<path d="M327.3 337.7v-4.2M327.3 198.6v4.2M374.3 337.7v-4.2M374.3 198.6v4.2M421.3 337.7v-4.2M421.3 198.6v4.2" stroke="#000" stroke-width="1.1" fill="none"/>
<path d="M285.9 338.7h2.5M458.8 338.7h-2.5M285.9 327h2.5M458.8 327h-2.5M285.9 315.3h2.5M458.8 315.3h-2.5M285.9 303.6h2.5M458.8 303.6h-2.5M285.9 291.9h2.5M458.8 291.9h-2.5M285.9 280.2h2.5M458.8 280.2h-2.5M285.9 268.5h2.5M458.8 268.5h-2.5M285.9 256.8h2.5M458.8 256.8h-2.5M285.9 245.1h2.5M458.8 245.1h-2.5M285.9 233.4h2.5M458.8 233.4h-2.5M285.9 221.7h2.5M458.8 221.7h-2.5M285.9 210h2.5M458.8 210h-2.5M285.9 198.3h2.5M458.8 198.3h-2.5" stroke="#000" stroke-width="1.1" fill="none"/>
<path d="M285.9 327h4.2M458.8 327h-4.2M285.9 303.6h4.2M458.8 303.6h-4.2M285.9 280.2h4.2M458.8 280.2h-4.2M285.9 256.8h4.2M458.8 256.8h-4.2M285.9 233.4h4.2M458.8 233.4h-4.2M285.9 210h4.2M458.8 210h-4.2" stroke="#000" stroke-width="1.1" fill="none"/>
<text transform="translate(328.9,354) scale(1,1.09)" font-size="13.4" text-anchor="middle" >0.5</text>
<text transform="translate(375.9,354) scale(1,1.09)" font-size="13.4" text-anchor="middle" >1.0</text>
<text transform="translate(422.9,354) scale(1,1.09)" font-size="13.4" text-anchor="middle" >1.5</text>
<text transform="translate(282.6,331.6) scale(1,1.09)" font-size="13.4" text-anchor="end" >0</text>
<text transform="translate(282.6,308.2) scale(1,1.09)" font-size="13.4" text-anchor="end" >20</text>
<text transform="translate(282.6,284.8) scale(1,1.09)" font-size="13.4" text-anchor="end" >40</text>
<text transform="translate(282.6,261.4) scale(1,1.09)" font-size="13.4" text-anchor="end" >60</text>
<text transform="translate(282.6,238) scale(1,1.09)" font-size="13.4" text-anchor="end" >80</text>
<text transform="translate(282.6,214.6) scale(1,1.09)" font-size="13.4" text-anchor="end" >100</text>
<text transform="translate(346.4,369.9) scale(1,1.09)" font-size="13.85" text-anchor="start" word-spacing="-1.8">Bias <tspan font-style="italic">U</tspan> (V)</text>
<text transform="translate(252.7,278.9) rotate(-90) scale(1,1.075)" font-size="13.85" text-anchor="middle">Deact. probability (%)</text>
<rect x="376" y="249.8" width="78.6" height="84.9" fill="#000"/>
<rect x="373" y="246.8" width="78.2" height="84.5" fill="#fff" stroke="#a8a8a8" stroke-width="1.1"/>
<path d="M376.3 252.6H404.6" stroke="#000000" stroke-width="1.3"/>
<rect x="386.3" y="251.6" width="8.4" height="2" fill="#fff"/>
<rect x="387.7" y="249.8" width="5.6" height="5.6" fill="#000000"/>
<text transform="translate(407.2,256.8) scale(1,1.09)" font-size="12" text-anchor="start" >tunnel</text>
<path d="M376.3 267.46H404.6" stroke="#ff0000" stroke-width="1.3"/>
<rect x="386.3" y="266.46" width="8.4" height="2" fill="#fff"/>
<circle cx="390.5" cy="267.46" r="2.94" fill="#ff0000"/>
<text transform="translate(407.2,271.66) scale(1,1.09)" font-size="12" text-anchor="start" >190 pm</text>
<path d="M376.3 282.32H404.6" stroke="#0000ff" stroke-width="1.3"/>
<rect x="386.3" y="281.32" width="8.4" height="2" fill="#fff"/>
<path d="M387.7 284.7L393.3 284.7L390.5 279.38Z" fill="#0000ff"/>
<text transform="translate(407.2,286.52) scale(1,1.09)" font-size="12" text-anchor="start" >315 pm</text>
<path d="M376.3 297.18H404.6" stroke="#008080" stroke-width="1.3"/>
<rect x="386.3" y="296.18" width="8.4" height="2" fill="#fff"/>
<path d="M387.7 294.8L393.3 294.8L390.5 300.12Z" fill="#008080"/>
<text transform="translate(407.2,301.38) scale(1,1.09)" font-size="12" text-anchor="start" >440 pm</text>
<path d="M376.3 312.04H404.6" stroke="#ff00ff" stroke-width="1.3"/>
<rect x="386.3" y="311.04" width="8.4" height="2" fill="#fff"/>
<path d="M392.88 309.24L392.88 314.84L387.56 312.04Z" fill="#ff00ff"/>
<text transform="translate(407.2,316.24) scale(1,1.09)" font-size="12" text-anchor="start" >565 pm</text>
<path d="M376.3 326.9H404.6" stroke="#808000" stroke-width="1.3"/>
<rect x="386.3" y="325.9" width="8.4" height="2" fill="#fff"/>
<path d="M388.12 324.1L388.12 329.7L393.44 326.9Z" fill="#808000"/>
<text transform="translate(407.2,331.1) scale(1,1.09)" font-size="12" text-anchor="start" >690 pm</text>
<text transform="translate(243.2,207.7) scale(1,1.09)" font-size="15.5" text-anchor="start" font-weight="bold">d</text>
<path d="M522.1 326.3L644.42 282.1" stroke="#ff0000" stroke-width="1.5"/>
<path d="M522.1 322.9V330.9M519.9 322.9h4.4M519.9 330.9h4.4" stroke="#000000" stroke-width="1.2" fill="none"/>
<rect x="519.8" y="324.6" width="4.6" height="4.6" fill="#000000"/>
<path d="M563.24 305.1V313.1M561.03 305.1h4.4M561.03 313.1h4.4" stroke="#000000" stroke-width="1.2" fill="none"/>
<rect x="560.94" y="306.8" width="4.6" height="4.6" fill="#000000"/>
<path d="M590.3 299.1V307.1M588.1 299.1h4.4M588.1 307.1h4.4" stroke="#000000" stroke-width="1.2" fill="none"/>
<rect x="588" y="300.8" width="4.6" height="4.6" fill="#000000"/>
<path d="M616.93 290.1V298.1M614.73 290.1h4.4M614.73 298.1h4.4" stroke="#000000" stroke-width="1.2" fill="none"/>
<rect x="614.63" y="291.8" width="4.6" height="4.6" fill="#000000"/>
<path d="M644.42 274.9V282.9M642.22 274.9h4.4M642.22 282.9h4.4" stroke="#000000" stroke-width="1.2" fill="none"/>
<rect x="642.12" y="276.6" width="4.6" height="4.6" fill="#000000"/>
<path d="M671.05 208.7V224.7M668.85 208.7h4.4M668.85 224.7h4.4" stroke="#000000" stroke-width="1.2" fill="none"/>
<rect x="668.75" y="214.4" width="4.6" height="4.6" fill="#000000"/>
<rect x="510.9" y="198.2" width="172.9" height="139.9" fill="none" stroke="#000" stroke-width="1.4"/>
<path d="M543.75 338.1v-2.5M543.75 198.2v2.5M587.05 338.1v-2.5M587.05 198.2v2.5M630.35 338.1v-2.5M630.35 198.2v2.5M673.65 338.1v-2.5M673.65 198.2v2.5" stroke="#000" stroke-width="1.1" fill="none"/>
<path d="M522.1 338.1v-4.2M522.1 198.2v4.2M565.4 338.1v-4.2M565.4 198.2v4.2M608.7 338.1v-4.2M608.7 198.2v4.2M652 338.1v-4.2M652 198.2v4.2" stroke="#000" stroke-width="1.1" fill="none"/>
<path d="M510.9 338.5h2.5M683.8 338.5h-2.5M510.9 318.5h2.5M683.8 318.5h-2.5M510.9 298.5h2.5M683.8 298.5h-2.5M510.9 278.5h2.5M683.8 278.5h-2.5M510.9 258.5h2.5M683.8 258.5h-2.5M510.9 238.5h2.5M683.8 238.5h-2.5M510.9 218.5h2.5M683.8 218.5h-2.5" stroke="#000" stroke-width="1.1" fill="none"/>
<path d="M510.9 328.5h4.2M683.8 328.5h-4.2M510.9 308.5h4.2M683.8 308.5h-4.2M510.9 288.5h4.2M683.8 288.5h-4.2M510.9 268.5h4.2M683.8 268.5h-4.2M510.9 248.5h4.2M683.8 248.5h-4.2M510.9 228.5h4.2M683.8 228.5h-4.2M510.9 208.5h4.2M683.8 208.5h-4.2" stroke="#000" stroke-width="1.1" fill="none"/>
<text transform="translate(523,353.8) scale(1,1.09)" font-size="13.4" text-anchor="middle" >0.0</text>
<text transform="translate(566.3,353.8) scale(1,1.09)" font-size="13.4" text-anchor="middle" >0.2</text>
<text transform="translate(609.6,353.8) scale(1,1.09)" font-size="13.4" text-anchor="middle" >0.4</text>
<text transform="translate(652.9,353.8) scale(1,1.09)" font-size="13.4" text-anchor="middle" >0.6</text>
<text transform="translate(507.5,333.1) scale(1,1.09)" font-size="13.4" text-anchor="end" >0.3</text>
<text transform="translate(507.5,313.1) scale(1,1.09)" font-size="13.4" text-anchor="end" >0.4</text>
<text transform="translate(507.5,293.1) scale(1,1.09)" font-size="13.4" text-anchor="end" >0.5</text>
<text transform="translate(507.5,273.1) scale(1,1.09)" font-size="13.4" text-anchor="end" >0.6</text>
<text transform="translate(507.5,253.1) scale(1,1.09)" font-size="13.4" text-anchor="end" >0.7</text>
<text transform="translate(507.5,233.1) scale(1,1.09)" font-size="13.4" text-anchor="end" >0.8</text>
<text transform="translate(507.5,213.1) scale(1,1.09)" font-size="13.4" text-anchor="end" >0.9</text>
<text transform="translate(536.8,369.5) scale(1,1.09)" font-size="13.75" text-anchor="start" >Relative height (nm)</text>
<g word-spacing="-1.2">
<text transform="translate(480.3,275.9) rotate(-90) scale(1,1.075)" font-size="13.25" text-anchor="middle">Threshold bias <tspan font-style="italic">U</tspan> (V)</text>
</g>
<rect x="529" y="208.8" width="72.2" height="38.2" fill="#000"/>
<rect x="526" y="205.8" width="71.8" height="37.8" fill="#fff" stroke="#a8a8a8" stroke-width="1.1"/>
<rect x="544.7" y="214.2" width="4.6" height="4.6" fill="#000000"/>
<path d="M531.4 232.6H562.6" stroke="#ff0000" stroke-width="1.5"/>
<text transform="translate(565.4,220.8) scale(1,1.09)" font-size="12.8" text-anchor="start" >data</text>
<text transform="translate(565.4,236.9) scale(1,1.09)" font-size="12.8" text-anchor="start" >fit</text>
<text transform="translate(470.8,206.4) scale(1,1.09)" font-size="15.5" text-anchor="start" font-weight="bold">e</text>
</svg></body></html>
